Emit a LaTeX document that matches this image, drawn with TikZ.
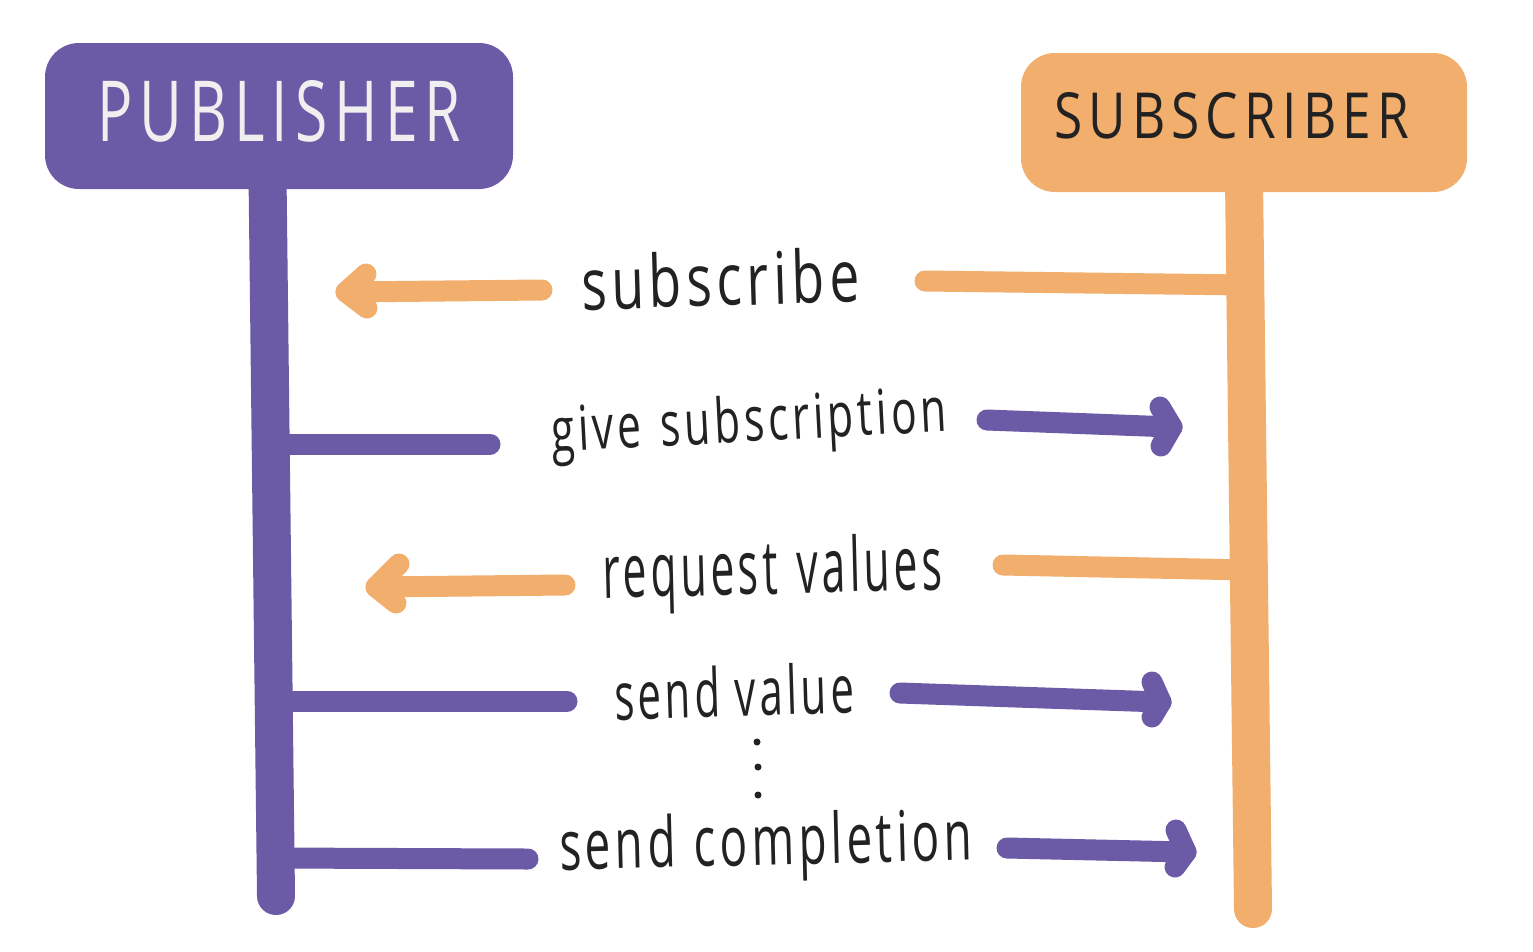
\documentclass[tikz,border=0pt]{standalone}
\usepackage{fontspec}
\setmainfont{Open Sans}
\newfontfamily\hwfont[LetterSpace=9]{Open Sans}
\newfontfamily\capfont[LetterSpace=12]{Open Sans}
\usepackage{graphicx}
\definecolor{pubc}{HTML}{6B5AA6}
\definecolor{subc}{HTML}{F2AE6C}
\definecolor{ink}{HTML}{222222}
\definecolor{paper}{HTML}{EFEFEF}
\newcommand{\hwtext}[3]{\resizebox{#1pt}{#2pt}{\hwfont #3}}
\newcommand{\captext}[3]{\resizebox{#1pt}{#2pt}{\capfont #3}}
\begin{document}
\begin{tikzpicture}[x=1pt,y=-1pt,
  lifeP/.style={draw=pubc,line width=38pt,line cap=round},
  lifeS/.style={draw=subc,line width=38pt,line cap=round},
  msgP/.style={draw=pubc,line width=21pt,line cap=round,line join=round},
  msgS/.style={draw=subc,line width=21pt,line cap=round,line join=round},
  head/.style={inner sep=0pt,outer sep=0pt,rounded corners=34pt},
  lbl/.style={inner sep=0pt,outer sep=0pt,anchor=base west,text=ink}]
\fill[white] (0,0) rectangle (1533,951);
\useasboundingbox (0,0) rectangle (1533,951);
% lifelines
\coordinate (pl1) at (267.5,175);
\coordinate (pl2) at (276,896);
\coordinate (sl1) at (1244,180);
\coordinate (sl2) at (1253,909);
\draw[lifeP] (pl1) -- (pl2);
\draw[lifeS] (sl1) -- (sl2);
% header boxes
\node[head,fill=pubc,minimum width=468pt,minimum height=146pt] (pub) at (279,116) {};
\node[head,fill=subc,minimum width=446pt,minimum height=139pt] (sub) at (1244,122.5) {};
\node[lbl,text=paper] (publbl) at (97,141) {\captext{364}{61}{PUBLISHER}};
\node[lbl] (sublbl) at (1054,138) {\captext{355}{46}{SUBSCRIBER}};
% labels
\node[lbl,rotate=1.7] (l1) at (582,310) {\hwtext{278}{55}{subscribe}};
\node[lbl,rotate=3] (l2) at (552,452) {\hwtext{396}{47}{give\hspace{0.45em}subscription}};
\node[lbl,rotate=1.4] (l3) at (603,598) {\hwtext{340}{57}{request\hspace{0.1em} values}};
\node[lbl,rotate=1.7] (l4) at (615,720) {\hwtext{240}{51}{send value}};
\node[lbl,rotate=1.4] (l5) at (560,870) {\hwtext{413}{53}{send\hspace{0.4em}completion}};
% 1 subscribe
\coordinate (s1a) at (925,281); \coordinate (s1b) at (1245,285);
\draw[msgS] (s1a) -- (s1b);
\coordinate (a1s) at (542,290); \coordinate (a1t) at (346,292);
\coordinate (a1u) at (366,274); \coordinate (a1d) at (367,308);
\draw[msgS] (a1s) -- (a1t);
\draw[msgS] (a1u) -- (a1t) -- (a1d);
% 2 give subscription
\coordinate (s2a) at (271,444); \coordinate (s2b) at (490,444);
\draw[msgP] (s2a) -- (s2b);
\coordinate (a2s) at (987,420); \coordinate (a2t) at (1172,427);
\coordinate (a2u) at (1160,407); \coordinate (a2d) at (1161,446);
\draw[msgP] (a2s) -- (a2t);
\draw[msgP] (a2u) -- (a2t) -- (a2d);
% 3 request values
\coordinate (s3a) at (1003,565); \coordinate (s3b) at (1249,570);
\draw[msgS] (s3a) -- (s3b);
\coordinate (a3s) at (565,585); \coordinate (a3t) at (376,587);
\coordinate (a3u) at (399,564); \coordinate (a3d) at (396,603);
\draw[msgS] (a3s) -- (a3t);
\draw[msgS] (a3u) -- (a3t) -- (a3d);
% 4 send value
\coordinate (s4a) at (274,701); \coordinate (s4b) at (567,701);
\draw[msgP] (s4a) -- (s4b);
\coordinate (a4s) at (900,693); \coordinate (a4t) at (1161,702);
\coordinate (a4u) at (1152,682); \coordinate (a4d) at (1152,717);
\draw[msgP] (a4s) -- (a4t);
\draw[msgP] (a4u) -- (a4t) -- (a4d);
% dots
\fill[ink] (757,742) circle (3.5pt) (758,767) circle (3.5pt) (758,795) circle (3.5pt);
% 5 send completion
\coordinate (s5a) at (275,858); \coordinate (s5b) at (528,859);
\draw[msgP] (s5a) -- (s5b);
\coordinate (a5s) at (1007,848); \coordinate (a5t) at (1186,852);
\coordinate (a5u) at (1176,830); \coordinate (a5d) at (1175,867);
\draw[msgP] (a5s) -- (a5t);
\draw[msgP] (a5u) -- (a5t) -- (a5d);
\end{tikzpicture}
\end{document}
